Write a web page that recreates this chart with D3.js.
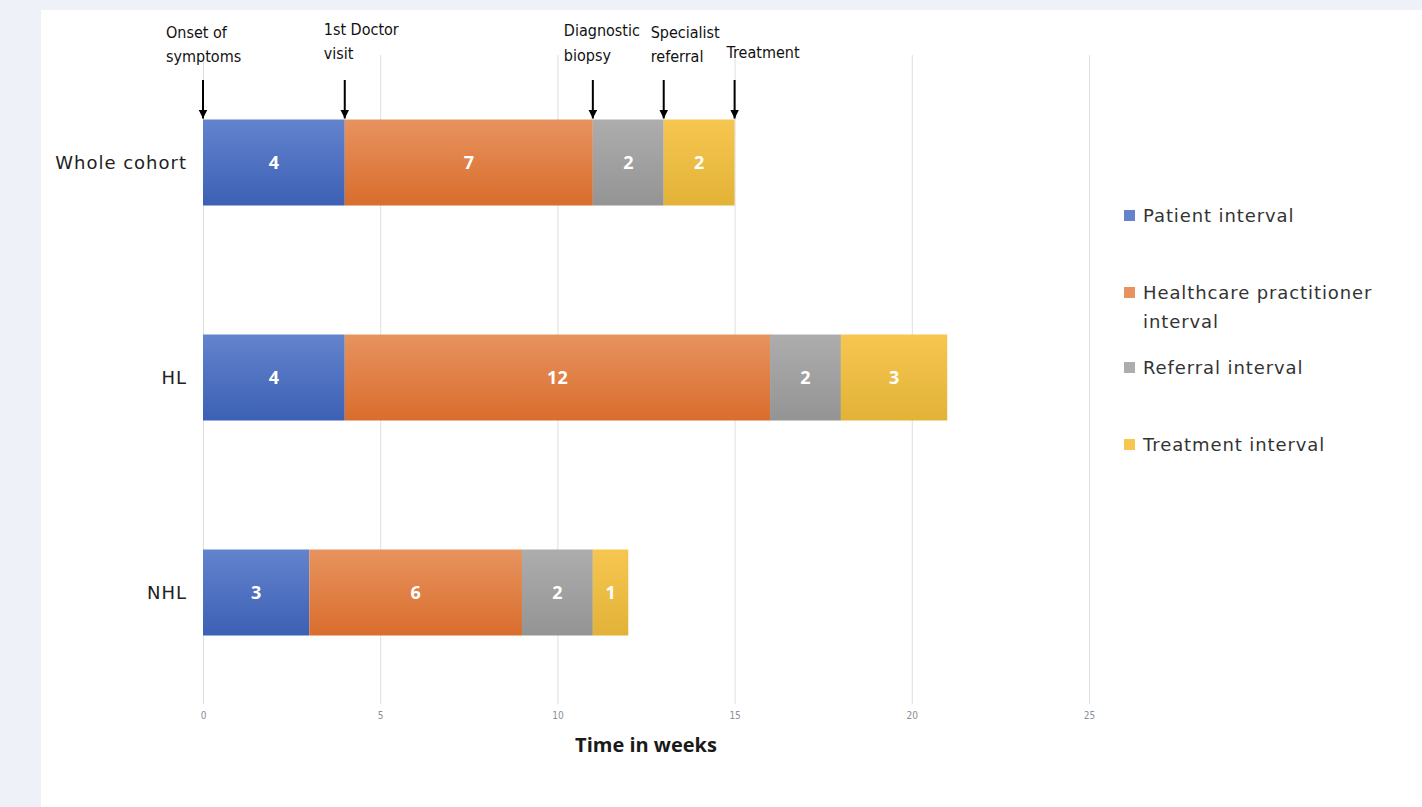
<!DOCTYPE html>
<html>
<head>
<meta charset="utf-8">
<script src="https://cdn.jsdelivr.net/npm/d3@7"></script>
<style>
  body { margin: 0; background: #eef1f7; }
  #chart-container { position: absolute; left: 41px; top: 10px; }
</style>
</head>
<body>
<div id="chart-container"></div>
<script>
// data
const categories = ['Whole cohort', 'HL', 'NHL']
const seriesNames = ['Patient interval', 'Healthcare practitioner interval', 'Referral interval', 'Treatment interval']
const patientInterval = [4, 4, 3]
const practitionerInterval = [7, 12, 6]
const referralInterval = [2, 2, 2]
const treatmentInterval = [2, 3, 1]
const xTicks = [0, 5, 10, 15, 20, 25]
const milestoneLabels = [['Onset of', 'symptoms'], ['1st Doctor', 'visit'], ['Diagnostic', 'biopsy'], ['Specialist', 'referral'], ['Treatment']]

const seriesValues = [patientInterval, practitionerInterval, referralInterval, treatmentInterval]
const colors = [
  ['#6383cd', '#3c60b4'],
  ['#e7935f', '#d96d2c'],
  ['#adadad', '#949494'],
  ['#f6c650', '#e2b337']
]

const w = 1381, h = 797
const ox = 41, oy = 10   // page offset of the panel
const labelFont = '"DejaVu Sans", sans-serif'
const narrowFont = '"Liberation Sans Narrow", "DejaVu Sans Condensed", sans-serif'

const svg = d3.select('#chart-container')
  .append('svg')
  .attr('width', w)
  .attr('height', h)
  .style('background-color', '#fff')
  .style('display', 'block')

const defs = svg.append('defs')
colors.forEach((c, i) => {
  const g = defs.append('linearGradient')
    .attr('id', 'grad' + i)
    .attr('x1', 0).attr('y1', 0).attr('x2', 0).attr('y2', 1)
  g.append('stop').attr('offset', '0%').attr('stop-color', c[0])
  g.append('stop').attr('offset', '100%').attr('stop-color', c[1])
})
defs.append('marker')
  .attr('id', 'arrow')
  .attr('viewBox', '0 0 10 10')
  .attr('refX', 10).attr('refY', 5)
  .attr('markerWidth', 4.5).attr('markerHeight', 4.5)
  .attr('markerUnits', 'strokeWidth')
  .attr('orient', 'auto')
  .append('path')
  .attr('d', 'M0,0 L10,5 L0,10 Z')
  .attr('fill', '#000')

const xScale = d3.scaleLinear()
  .domain([0, 25])
  .range([203 - ox, 1089 - ox])

const yScale = d3.scaleBand()
  .domain(categories)
  .range([55 - oy, 700 - oy])
  .paddingInner(0.6)
  .paddingOuter(0.3)

// gridlines
svg.append('g')
  .selectAll('line')
  .data(xTicks)
  .enter()
  .append('line')
  .attr('x1', d => xScale(d) + 0.5)
  .attr('x2', d => xScale(d) + 0.5)
  .attr('y1', 55 - oy)
  .attr('y2', 704 - oy)
  .attr('stroke', '#dcdfe4')
  .attr('stroke-width', 1)

// x axis
const xAxis = d3.axisBottom(xScale).tickValues(xTicks).tickSize(0).tickPadding(0)
const xg = svg.append('g')
  .attr('transform', `translate(0, ${712 - oy})`)
  .call(xAxis)
xg.select('.domain').remove()
xg.selectAll('text')
  .attr('fill', '#8a8f99')
  .style('font-family', narrowFont)
  .style('font-size', '10px')

svg.append('text')
  .attr('x', (xScale(0) + xScale(25)) / 2)
  .attr('y', 752 - oy)
  .attr('text-anchor', 'middle')
  .style('font-family', '"Open Sans", sans-serif')
  .style('font-weight', 'bold')
  .style('font-size', '20px')
  .attr('fill', '#1a1a1a')
  .text('Time in weeks')

// category labels
svg.append('g')
  .selectAll('text')
  .data(categories)
  .enter()
  .append('text')
  .attr('x', 187 - ox)
  .attr('y', d => yScale(d) + yScale.bandwidth() / 2)
  .attr('dy', '0.35em')
  .attr('text-anchor', 'end')
  .style('font-family', labelFont)
  .style('font-size', '18px')
  .style('letter-spacing', '1px')
  .attr('fill', '#222')
  .text(d => d)

// stacked bars
const rows = categories.map((c, i) => {
  const r = { cat: c }
  seriesNames.forEach((s, j) => { r[s] = seriesValues[j][i] })
  return r
})
const stacked = d3.stack().keys(seriesNames)(rows)

stacked.forEach((layer, j) => {
  const g = svg.append('g')
  g.selectAll('rect')
    .data(layer)
    .enter()
    .append('rect')
    .attr('x', d => xScale(d[0]))
    .attr('y', d => yScale(d.data.cat))
    .attr('width', d => xScale(d[1]) - xScale(d[0]))
    .attr('height', yScale.bandwidth())
    .attr('fill', `url(#grad${j})`)
  g.selectAll('text')
    .data(layer)
    .enter()
    .append('text')
    .attr('x', d => (xScale(d[0]) + xScale(d[1])) / 2)
    .attr('y', d => yScale(d.data.cat) + yScale.bandwidth() / 2)
    .attr('dy', '0.35em')
    .attr('text-anchor', 'middle')
    .style('font-family', '"Open Sans", sans-serif')
    .style('font-weight', 'bold')
    .style('font-size', '18px')
    .attr('fill', '#fff')
    .text(d => d[1] - d[0])
})

// milestone arrows along the whole cohort bar
const milestones = [0].concat(stacked.map(layer => layer[0][1]))
const barTop = yScale(categories[0])
const mg = svg.append('g')
milestones.forEach((m, i) => {
  mg.append('line')
    .attr('x1', xScale(m))
    .attr('x2', xScale(m))
    .attr('y1', 80 - oy)
    .attr('y2', barTop - 1)
    .attr('stroke', '#000')
    .attr('stroke-width', 2)
    .attr('marker-end', 'url(#arrow)')
})
const labelDx = [-37, -21, -29, -13, -8]
const labelY = [[38, 62], [35, 59], [36, 61], [38, 62], [58]]
milestoneLabels.forEach((lines, i) => {
  const t = mg.append('text')
    .style('font-family', narrowFont)
    .style('font-size', '16px')
    .attr('fill', '#111')
  lines.forEach((l, k) => {
    t.append('tspan')
      .attr('x', xScale(milestones[i]) + labelDx[i])
      .attr('y', labelY[i][k] - oy)
      .text(l)
  })
})

// legend
const legendY = [[216], [293, 322], [368], [445]]
const lg = svg.append('g')
seriesNames.forEach((s, j) => {
  lg.append('rect')
    .attr('x', 1124 - ox)
    .attr('y', legendY[j][0] - 6 - oy)
    .attr('width', 11)
    .attr('height', 11)
    .attr('fill', colors[j][0])
  const t = lg.append('text')
    .style('font-family', labelFont)
    .style('font-size', '18px')
    .style('letter-spacing', '0.9px')
    .attr('fill', '#333')
  const parts = j === 1 ? ['Healthcare practitioner', 'interval'] : [s]
  parts.forEach((p, k) => {
    t.append('tspan')
      .attr('x', 1143 - ox)
      .attr('y', legendY[j][k] - oy)
      .attr('dy', '0.35em')
      .text(p)
  })
})
</script>
</body>
</html>
